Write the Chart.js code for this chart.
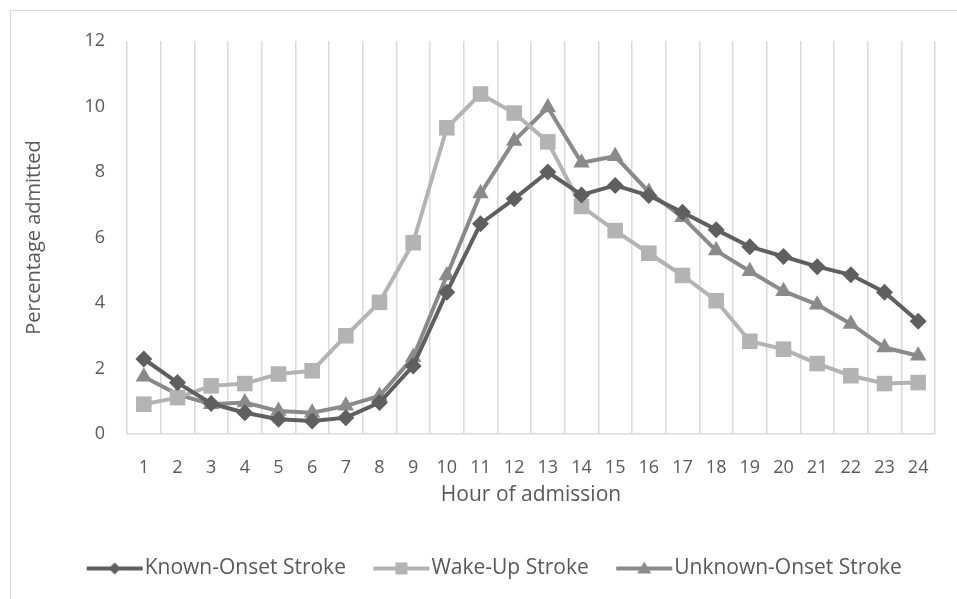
<!DOCTYPE html>
<html>
<head>
<meta charset="utf-8">
<script src="https://cdn.jsdelivr.net/npm/chart.js@4/dist/chart.umd.min.js"></script>
<style>
  html, body { margin: 0; padding: 0; background: #fff; }
  #wrap { position: relative; width: 957px; height: 599px; overflow: hidden; }
  #frame { position: absolute; left: 10px; top: 10px; width: 1000px; height: 1000px;
           border-left: 1px solid #d9d9d9; border-top: 1px solid #d9d9d9; }
  canvas { position: absolute; left: 0; top: 0; }
</style>
</head>
<body>
<div id="wrap">
  <div id="frame"></div>
  <canvas id="c" width="957" height="599"></canvas>
</div>
<script>
const hours = ['1','2','3','4','5','6','7','8','9','10','11','12','13','14','15','16','17','18','19','20','21','22','23','24'];

const knownOnset = [2.29, 1.57, 0.93, 0.65, 0.45, 0.40, 0.50, 0.96, 2.08, 4.33, 6.42, 7.18,
                    8.00, 7.30, 7.59, 7.28, 6.77, 6.24, 5.72, 5.42, 5.11, 4.86, 4.33, 3.44];
const wakeUp     = [0.91, 1.11, 1.47, 1.54, 1.83, 1.93, 3.00, 4.02, 5.84, 9.35, 10.38, 9.80,
                    8.92, 6.95, 6.21, 5.52, 4.84, 4.07, 2.83, 2.59, 2.15, 1.78, 1.54, 1.57];
const unknownOnset = [1.75, 1.21, 0.91, 0.96, 0.70, 0.65, 0.86, 1.16, 2.34, 4.84, 7.34, 8.95,
                      9.97, 8.28, 8.48, 7.39, 6.62, 5.60, 4.97, 4.36, 3.95, 3.36, 2.64, 2.39];

const seriesNames = ['Known-Onset Stroke', 'Wake-Up Stroke', 'Unknown-Onset Stroke'];
const colors = ['#5f5f5f', '#b3b3b3', '#8a8a8a'];
const styles = ['rectRot', 'rect', 'triangle'];
const radii = [8.5, 11, 9.5];

const fontFam = '"Open Sans", Lato, sans-serif';
const textCol = '#595959';

// legend icon: blank gap on the left, then a line with the marker in the middle
function makeIcon(color, style) {
  const cv = document.createElement('canvas');
  cv.width = 84; cv.height = 20;
  const g = cv.getContext('2d');
  g.strokeStyle = color; g.lineWidth = 4;
  g.beginPath(); g.moveTo(26, 10); g.lineTo(82, 10); g.stroke();
  const m = 54;
  g.fillStyle = color;
  g.beginPath();
  if (style === 'rectRot') {
    g.moveTo(m, 4); g.lineTo(m + 6, 10); g.lineTo(m, 16); g.lineTo(m - 6, 10);
  } else if (style === 'rect') {
    g.rect(m - 6, 4, 12, 12);
  } else {
    g.moveTo(m, 3); g.lineTo(m + 7, 15); g.lineTo(m - 7, 15);
  }
  g.closePath(); g.fill();
  return cv;
}
const icons = colors.map((c, i) => makeIcon(c, styles[i]));

const values = [knownOnset, wakeUp, unknownOnset];

new Chart(document.getElementById('c'), {
  type: 'line',
  data: {
    labels: hours,
    datasets: values.map((v, i) => ({
      label: seriesNames[i],
      data: v,
      borderColor: colors[i],
      backgroundColor: colors[i],
      borderWidth: 4,
      pointStyle: styles[i],
      pointRadius: radii[i],
      pointHoverRadius: radii[i],
      pointBorderWidth: 0,
      tension: 0
    }))
  },
  options: {
    responsive: false,
    animation: false,
    layout: { padding: { left: 38, right: 22, top: 41, bottom: 10 } },
    plugins: {
      tooltip: { enabled: false },
      legend: {
        position: 'bottom',
        labels: {
          usePointStyle: true,
          pointStyleWidth: 63,
          padding: 12,
          color: textCol,
          font: { family: fontFam, size: 21 },
          generateLabels: (chart) => chart.data.datasets.map((ds, i) => ({
            text: ds.label,
            pointStyle: icons[i],
            fillStyle: colors[i],
            strokeStyle: colors[i],
            fontColor: textCol,
            lineWidth: 0,
            hidden: false,
            datasetIndex: i
          }))
        }
      }
    },
    scales: {
      x: {
        offset: true,
        grid: { offset: true, color: '#d9d9d9', lineWidth: 1.5, drawTicks: false },
        border: { color: '#d9d9d9', width: 1.5 },
        ticks: { color: textCol, padding: 23, maxRotation: 0, autoSkip: false,
                 font: { family: fontFam, size: 18 } },
        title: { display: true, text: 'Hour of admission', color: textCol,
                 font: { family: fontFam, size: 21 }, padding: { top: 0, bottom: 38 } },
        afterFit: (s) => { s.height = 112; }
      },
      y: {
        min: 0, max: 12,
        grid: { display: false, drawTicks: false },
        border: { display: false },
        ticks: { stepSize: 2, color: textCol, padding: 22,
                 font: { family: fontFam, size: 18 } },
        title: { display: true, text: 'Percentage admitted', color: textCol,
                 font: { family: fontFam, size: 20 }, padding: { top: -16, bottom: 0 } },
        afterFit: (s) => { s.width = 89; }
      }
    }
  }
});
</script>
</body>
</html>
